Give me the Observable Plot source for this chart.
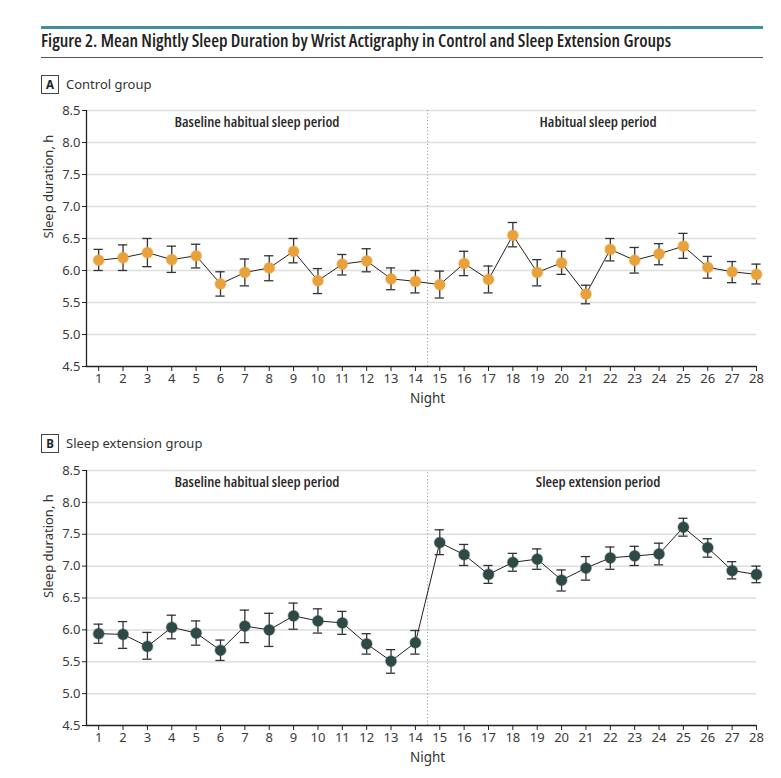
<!DOCTYPE html>
<html>
<head>
<meta charset="utf-8">
<script src="https://cdn.jsdelivr.net/npm/d3@7"></script>
<script src="https://cdn.jsdelivr.net/npm/@observablehq/plot@0.6"></script>
<style>
  html, body { margin: 0; padding: 0; background: #fff; }
  #fig { position: relative; width: 781px; height: 778px; background: #fff; font-family: "Noto Sans", sans-serif; color: #333; }
  .abs { position: absolute; }
  .box { border: 1.3px solid #444; font-weight: bold; font-size: 11.5px; text-align: center; color: #222; box-sizing: border-box; }
  .ptitle { font-size: 13px; color: #333; }
  #title { font-family: "Open Sans", "Noto Sans", sans-serif; font-weight: 600; font-stretch: 75%; font-size: 17px; color: #222; white-space: nowrap; transform-origin: 0 0; line-height: 22px; }
  .period-label { font-stretch: 75%; }
</style>
</head>
<body>
<div id="fig">
  <div class="abs" style="left:41px; top:25.5px; width:722px; height:3px; background:#3f8f9f;"></div>
  <div class="abs" style="left:41px; top:30px;"><span id="title">Figure 2. Mean Nightly Sleep Duration by Wrist Actigraphy in Control and Sleep Extension Groups</span></div>
  <div class="abs" style="left:41px; top:56.5px; width:722px; height:1.5px; background:#555;"></div>

  <div class="abs box" style="left:41px; top:75px; width:18px; height:19px; line-height:17px;">A</div>
  <div class="abs ptitle" style="left:66px; top:75px; line-height:19px;">Control group</div>
  <div class="abs" id="panelA" style="left:0; top:100px;"></div>

  <div class="abs box" style="left:41px; top:434px; width:18px; height:19px; line-height:17px;">B</div>
  <div class="abs ptitle" style="left:66px; top:434px; line-height:19px;">Sleep extension group</div>
  <div class="abs" id="panelB" style="left:0; top:460px;"></div>
</div>
<script>
// ---- data ----
const nights = [1,2,3,4,5,6,7,8,9,10,11,12,13,14,15,16,17,18,19,20,21,22,23,24,25,26,27,28];
const yTicks = [4.5,5.0,5.5,6.0,6.5,7.0,7.5,8.0,8.5];

const controlMean = [6.16,6.20,6.28,6.17,6.23,5.79,5.97,6.04,6.30,5.84,6.10,6.15,5.87,5.83,5.78,6.11,5.86,6.55,5.97,6.12,5.63,6.33,6.16,6.26,6.38,6.05,5.98,5.94];
const controlHi   = [6.33,6.40,6.50,6.38,6.41,5.98,6.18,6.23,6.50,6.03,6.25,6.34,6.04,6.00,5.99,6.30,6.07,6.75,6.17,6.30,5.77,6.50,6.36,6.42,6.58,6.22,6.14,6.10];
const controlLo   = [6.00,6.00,6.06,5.97,6.04,5.60,5.76,5.84,6.12,5.64,5.93,5.98,5.70,5.65,5.57,5.92,5.65,6.37,5.76,5.94,5.48,6.15,5.96,6.09,6.19,5.88,5.81,5.79];

const extMean = [5.94,5.93,5.74,6.04,5.95,5.68,6.06,6.00,6.22,6.14,6.11,5.78,5.51,5.80,7.37,7.18,6.87,7.06,7.11,6.78,6.97,7.13,7.16,7.19,7.61,7.29,6.93,6.87];
const extHi   = [6.09,6.13,5.96,6.23,6.14,5.84,6.31,6.26,6.42,6.33,6.29,5.94,5.69,5.99,7.57,7.34,7.01,7.20,7.27,6.94,7.15,7.30,7.31,7.36,7.75,7.43,7.07,7.00];
const extLo   = [5.79,5.71,5.54,5.86,5.76,5.52,5.80,5.74,6.01,5.95,5.93,5.62,5.32,5.62,7.18,7.01,6.73,6.92,6.95,6.61,6.78,6.95,7.01,7.02,7.47,7.14,6.80,6.74];

const periodsA = ["Baseline habitual sleep period", "Habitual sleep period"];
const periodsB = ["Baseline habitual sleep period", "Sleep extension period"];
const periodCenters = [7.5, 21.5];
const splitNight = 14.5;

function makePanel(mean, hi, lo, periods, color, plotHeight) {
  const data = nights.map((n, i) => ({night: n, mean: mean[i], hi: hi[i], lo: lo[i]}));
  const capHalf = 0.19;
  const labels = periods.map((p, i) => ({x: periodCenters[i], text: p}));
  return Plot.plot({
    width: 781,
    height: 10 + plotHeight + 44,
    marginLeft: 86,
    marginRight: 25,
    marginTop: 10,
    marginBottom: 44,
    style: {fontFamily: "Noto Sans, sans-serif", fontSize: "13px", color: "#333", background: "transparent", overflow: "visible"},
    x: {domain: [0.5, 28], label: null},
    y: {domain: [4.5, 8.5], label: null},
    marks: [
      Plot.ruleY(yTicks.filter(t => t > 4.5), {stroke: "#dedede", strokeWidth: 1.5}),
      Plot.ruleX([splitNight], {y1: 4.5, y2: 8.5, stroke: "#7fa4a8", strokeWidth: 1, strokeDasharray: "1.2,2.2"}),
      Plot.axisX({ticks: nights, tickFormat: d => String(d), tickSize: 5, tickPadding: 2, stroke: "#222", fill: "#3a3a3a", label: null}),
      Plot.axisY({ticks: yTicks, tickFormat: d3.format(".1f"), tickSize: 4, tickPadding: 2, stroke: "#222", fill: "#3a3a3a", label: null}),
      Plot.ruleY([4.5], {stroke: "#222", strokeWidth: 1.3}),
      Plot.ruleX([0.5], {y1: 4.5, y2: 8.5, stroke: "#222", strokeWidth: 1.3}),
      Plot.text(["Sleep duration, h"], {frameAnchor: "left", y: 6.5, dx: -38, rotate: -90, fontSize: 13, fill: "#333"}),
      Plot.text(["Night"], {x: splitNight, y: 4.5, dy: 32, lineAnchor: "middle", fontSize: 13.5, fill: "#333"}),
      Plot.text(labels, {x: "x", y: 8.5, dy: 12, text: "text", lineAnchor: "middle", fontSize: 14, fontWeight: 600, fill: "#2a2a2a", fontFamily: "Open Sans, Noto Sans, sans-serif", className: "period-label"}),
      Plot.ruleX(data, {x: "night", y1: "lo", y2: "hi", stroke: "#333", strokeWidth: 1.3}),
      Plot.ruleY(data, {y: "hi", x1: d => d.night - capHalf, x2: d => d.night + capHalf, stroke: "#333", strokeWidth: 1.3}),
      Plot.ruleY(data, {y: "lo", x1: d => d.night - capHalf, x2: d => d.night + capHalf, stroke: "#333", strokeWidth: 1.3}),
      Plot.line(data, {x: "night", y: "mean", stroke: "#222", strokeWidth: 1}),
      Plot.dot(data, {x: "night", y: "mean", r: 5.4, fill: color, stroke: color, strokeOpacity: 0.35, strokeWidth: 1.5})
    ]
  });
}

const pA = makePanel(controlMean, controlHi, controlLo, periodsA, "#e9a23b", 256);
const pB = makePanel(extMean, extHi, extLo, periodsB, "#2e4a46", 255);
document.getElementById("panelA").appendChild(pA);
document.getElementById("panelB").appendChild(pB);

// fit condensed text widths to the reference
const title = document.getElementById("title");
const tw = title.getBoundingClientRect().width;
if (tw > 0) title.style.display = "inline-block", title.style.transform = `scaleX(${630 / title.getBoundingClientRect().width})`;

const periodTexts = Array.from(document.querySelectorAll(".period-label text"));
const base = periodTexts.find(t => t.textContent === periodsA[0]);
if (base) {
  const s = 165 / base.getComputedTextLength();
  periodTexts.forEach(t => {
    const w = t.getComputedTextLength();
    t.setAttribute("textLength", (w * s).toFixed(1));
    t.setAttribute("lengthAdjust", "spacingAndGlyphs");
  });
}
</script>
</body>
</html>
